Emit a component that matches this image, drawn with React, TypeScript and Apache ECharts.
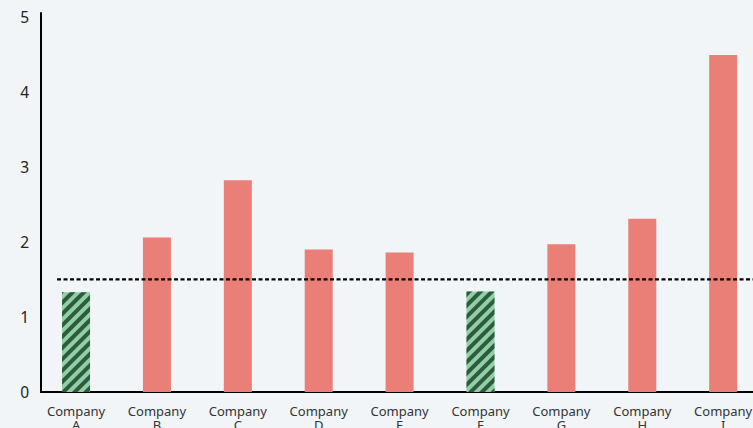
import React, { useEffect, useRef } from "react";
import * as echarts from "echarts";

const categories = [
  "Company\nA",
  "Company\nB",
  "Company\nC",
  "Company\nD",
  "Company\nE",
  "Company\nF",
  "Company\nG",
  "Company\nH",
  "Company\nI",
];
const values = [1.33, 2.06, 2.82, 1.9, 1.86, 1.34, 1.97, 2.31, 4.49];
const referenceValue = 1.5;
const yTicks = [0, 1, 2, 3, 4, 5];

export default function App() {
  const ref = useRef<HTMLDivElement>(null);
  useEffect(() => {
    document.body.style.margin = "0";
    document.body.style.background = "#f1f5f8";
    const chart = echarts.init(ref.current!, null, { renderer: "svg" });
    const font = "'Noto Sans', sans-serif";
    const option: any = {
      animation: false,
      backgroundColor: "#f1f5f8",
      grid: [
        { left: 41, top: 13, right: 0, bottom: 36, outerBoundsMode: "none", containLabel: false },
        { left: 35.6, top: 13, width: 728, bottom: 36, outerBoundsMode: "none", containLabel: false },
      ],
      xAxis: [
        {
          gridIndex: 0,
          type: "value",
          min: 0,
          max: 1,
          axisLine: { show: true, lineStyle: { color: "#000", width: 2 } },
          axisTick: { show: false },
          axisLabel: { show: false },
          splitLine: { show: false },
        },
        {
          gridIndex: 1,
          type: "category",
          data: categories,
          axisLine: { show: false },
          axisTick: { show: false },
          axisLabel: {
            interval: 0,
            margin: 12,
            fontSize: 13,
            lineHeight: 14,
            color: "#333",
            fontFamily: font,
          },
        },
      ],
      yAxis: [
        {
          gridIndex: 0,
          type: "value",
          min: 0,
          max: 5.05,
          interval: 1,
          axisLine: { show: true, lineStyle: { color: "#000", width: 2 } },
          axisTick: { show: false },
          splitLine: { show: false },
          axisLabel: {
            showMaxLabel: false,
            margin: 12,
            fontSize: 15.5,
            color: "#222",
            fontFamily: font,
            padding: [9, 0, 0, 0],
            formatter: (v: number) => (yTicks.includes(v) ? String(v) : ""),
          },
        },
        {
          gridIndex: 1,
          type: "value",
          min: 0,
          max: 5.05,
          show: false,
        },
      ],
      series: [
        {
          type: "bar",
          xAxisIndex: 1,
          yAxisIndex: 1,
          barWidth: 28,
          data: values.map((v) => {
            if (v < referenceValue) {
              return {
                value: v,
                itemStyle: {
                  color: "#8fd0a6",
                  decal: {
                    symbol: "rect",
                    symbolSize: 1,
                    color: "#2f5a3d",
                    dashArrayX: [1, 0],
                    dashArrayY: [3.2, 3.2],
                    rotation: -Math.PI / 4,
                  },
                },
              };
            }
            return { value: v, itemStyle: { color: "#e97f76" } };
          }),
        },
        {
          type: "line",
          xAxisIndex: 0,
          yAxisIndex: 0,
          symbol: "none",
          lineStyle: { color: "#000", width: 2.2, type: [4, 2.5] },
          data: [
            [0.0225, referenceValue],
            [1, referenceValue],
          ],
          z: 5,
        },
      ],
    };
    chart.setOption(option);
    return () => chart.dispose();
  }, []);
  return (
    <div
      ref={ref}
      style={{ position: "absolute", left: 0, top: 0, width: 753, height: 428 }}
    />
  );
}
